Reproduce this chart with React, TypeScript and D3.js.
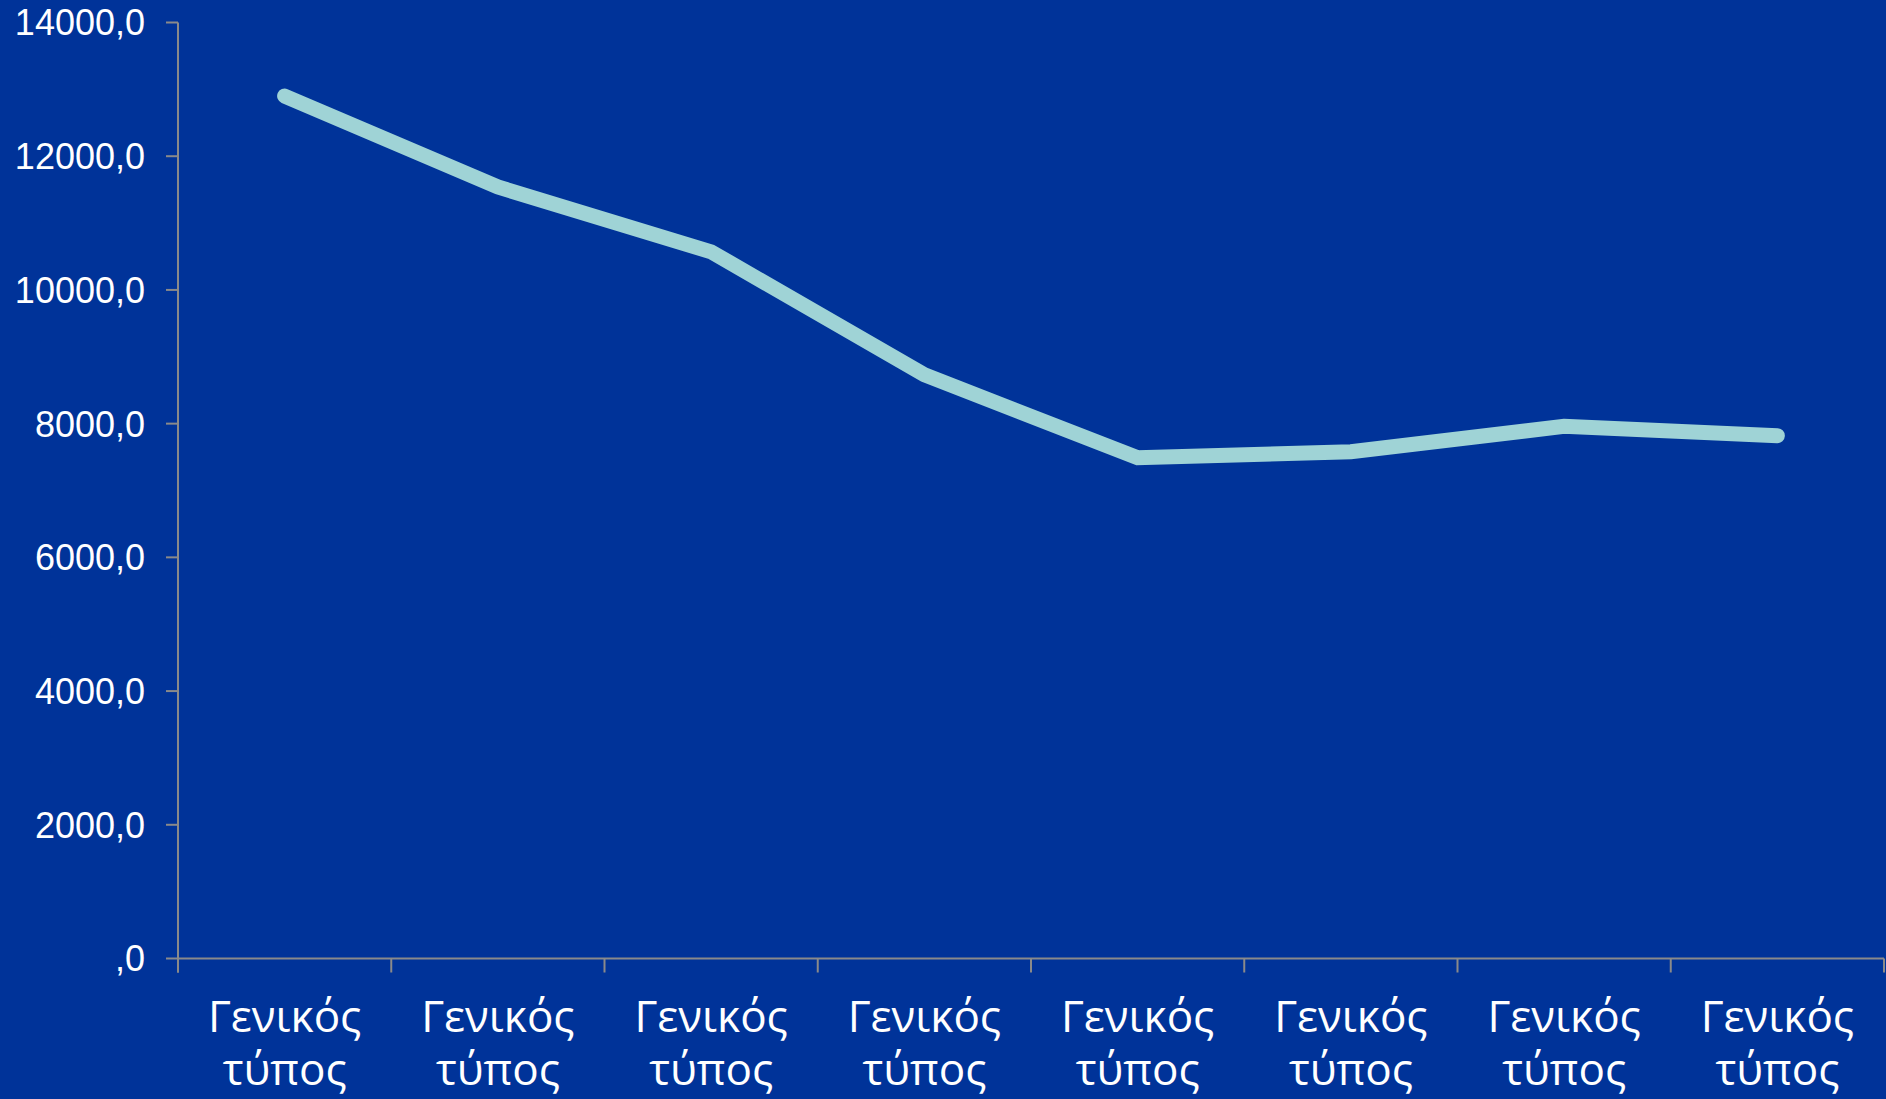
import React from "react";
import * as d3 from "d3";

const categories = ["Γενικός τύπος", "Γενικός τύπος", "Γενικός τύπος", "Γενικός τύπος", "Γενικός τύπος", "Γενικός τύπος", "Γενικός τύπος", "Γενικός τύπος"];
const values = [12900, 11540, 10570, 8730, 7490, 7580, 7960, 7820];
const yTicks = [0, 2000, 4000, 6000, 8000, 10000, 12000, 14000];

const W = 1886;
const H = 1099;
const left = 178;
const right = 1884;
const top = 22.5;
const bottom = 958.5;

const fmt = (v: number) => (v === 0 ? ",0" : `${v},0`);

export default function App() {
  const x = d3.scaleBand<number>().domain(d3.range(categories.length)).range([left, right]).padding(0);
  const y = d3.scaleLinear().domain([0, 14000]).range([bottom, top]);
  const line = d3
    .line<number>()
    .x((_, i) => (x(i) as number) + x.bandwidth() / 2)
    .y((d) => y(d));
  const bounds = d3.range(categories.length + 1).map((i) => (i < categories.length ? (x(i) as number) : right));
  const axisColor = "#8a8a8a";
  return (
    <div style={{ position: "fixed", left: 0, top: 0, width: W, height: H }}>
      <svg width={W} height={H} style={{ display: "block" }}>
        <rect x={0} y={0} width={W} height={H} fill="#003399" />
        <line x1={left} x2={left} y1={top} y2={bottom + 14} stroke={axisColor} strokeWidth={2} />
        {yTicks.map((t) => (
          <g key={t}>
            <line x1={left - 12} x2={left} y1={y(t)} y2={y(t)} stroke={axisColor} strokeWidth={2} />
            <text
              x={145}
              y={y(t)}
              dy="0.36em"
              textAnchor="end"
              fill="#ffffff"
              fontFamily="Liberation Sans, Arial, sans-serif"
              fontSize={36}
            >
              {fmt(t)}
            </text>
          </g>
        ))}
        <line x1={left} x2={right} y1={bottom} y2={bottom} stroke={axisColor} strokeWidth={2} />
        {bounds.map((b, i) => (
          <line key={i} x1={b} x2={b} y1={bottom} y2={bottom + 14} stroke={axisColor} strokeWidth={2} />
        ))}
        {categories.map((c, i) => {
          const cx = (x(i) as number) + x.bandwidth() / 2;
          const parts = c.split(" ");
          return (
            <g key={i} fill="#ffffff" fontFamily="Open Sans, Noto Sans, sans-serif" fontSize={44} textAnchor="middle">
              <text x={cx} y={1032}>{parts[0]}</text>
              <text x={cx} y={1085}>{parts[1]}</text>
            </g>
          );
        })}
        <path
          d={line(values) as string}
          fill="none"
          stroke="#9fd3d6"
          strokeWidth={15}
          strokeLinecap="round"
          strokeLinejoin="miter"
        />
      </svg>
    </div>
  );
}
